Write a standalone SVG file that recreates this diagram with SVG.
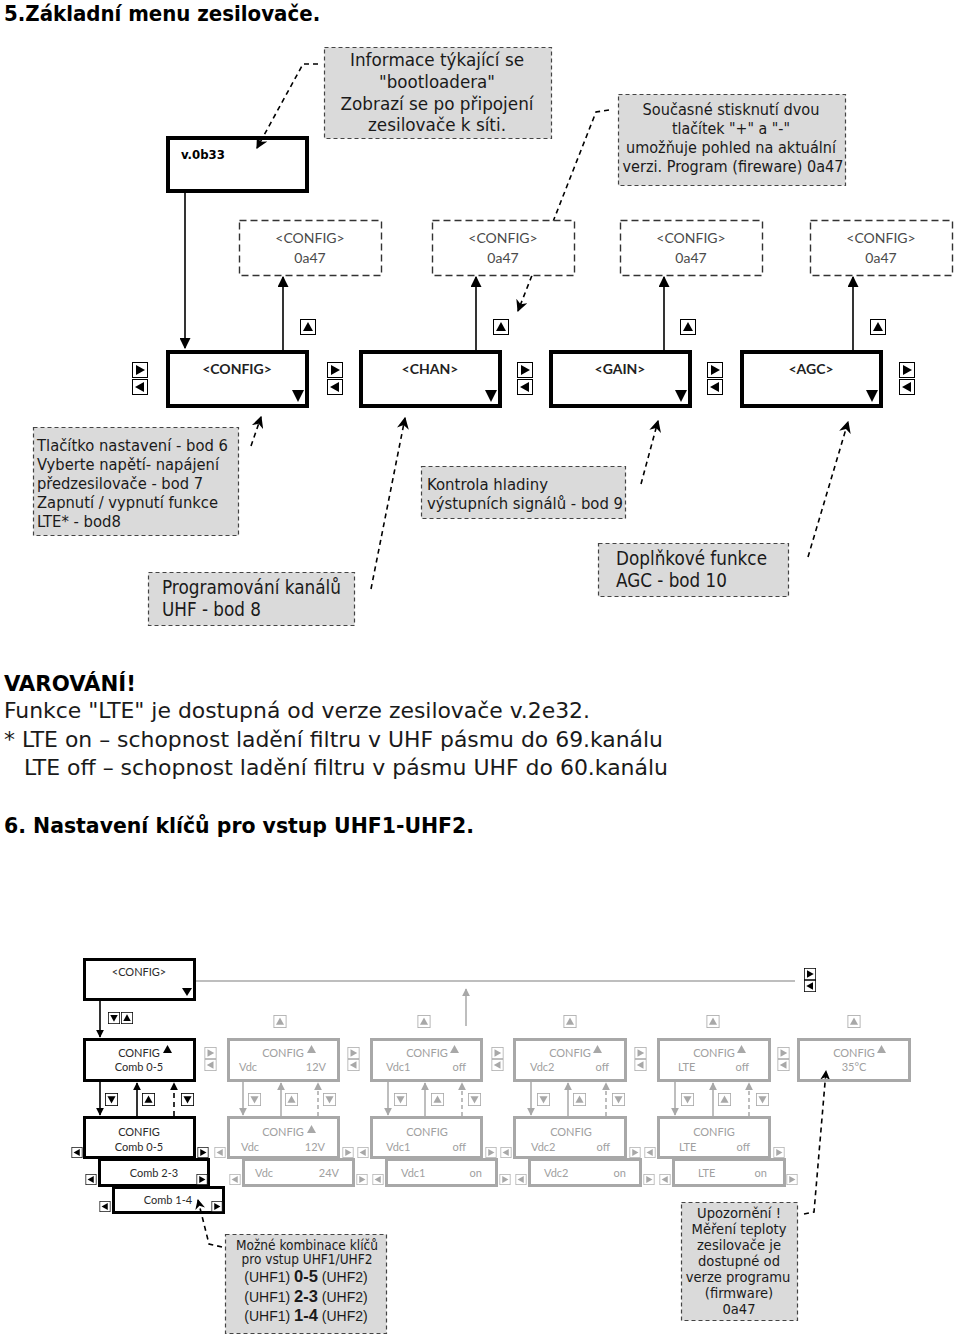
<svg xmlns="http://www.w3.org/2000/svg" xmlns:xlink="http://www.w3.org/1999/xlink" width="960" height="1340" viewBox="0 0 960 1340">
<style>
.cd{font-family:'DejaVu Sans Condensed','DejaVu Sans',sans-serif;font-stretch:condensed;fill:#1a1a1a}
.cdb{font-family:'DejaVu Sans Condensed','DejaVu Sans',sans-serif;font-stretch:condensed;font-weight:bold;fill:#000}
.lt{font-family:Lato,'Liberation Sans',sans-serif}
.ls{font-family:'Liberation Sans',Arial,sans-serif;fill:#1a1a1a}
.note{fill:#dadada;stroke:#444;stroke-width:1.2;stroke-dasharray:4 3}
.dbox{fill:#fff;stroke:#333;stroke-width:1.4;stroke-dasharray:7 4}
.mbox{fill:#fff;stroke:#000;stroke-width:4}
.bbox{fill:#fff;stroke:#000;stroke-width:3}
.gbox{fill:#fff;stroke:#a8a8a8;stroke-width:3}
.conn{stroke:#000;stroke-width:1.6;fill:none}
.dconn{stroke:#000;stroke-width:1.6;fill:none;stroke-dasharray:5 4}
.gconn{stroke:#a8a8a8;stroke-width:1.5;fill:none}
.gdconn{stroke:#a8a8a8;stroke-width:1.5;fill:none;stroke-dasharray:4 3}
.gt{fill:#a0a0a0}
.bt{fill:#2a2a2a}
.tri{fill:#000}
.gtri{fill:#a8a8a8}
.hollow{fill:none}
</style>
<defs>
<marker id="ah" viewBox="0 0 10 10" refX="9" refY="5" markerWidth="11" markerHeight="11" markerUnits="userSpaceOnUse" orient="auto"><path d="M0,0 L10,5 L0,10 Z" fill="#000"/></marker>
<marker id="ahd" viewBox="0 0 10 10" refX="9" refY="5" markerWidth="12" markerHeight="12" markerUnits="userSpaceOnUse" orient="auto"><path d="M0,0 L10,5 L0,10 L3,5 Z" fill="#000"/></marker>
<marker id="ahs" viewBox="0 0 10 10" refX="9" refY="5" markerWidth="8" markerHeight="8" markerUnits="userSpaceOnUse" orient="auto"><path d="M0,0 L10,5 L0,10 Z" fill="#000"/></marker>
<marker id="ahsd" viewBox="0 0 10 10" refX="9" refY="5" markerWidth="10" markerHeight="10" markerUnits="userSpaceOnUse" orient="auto"><path d="M0,0 L10,5 L0,10 L3,5 Z" fill="#000"/></marker>
<marker id="ahg" viewBox="0 0 10 10" refX="9" refY="5" markerWidth="8" markerHeight="8" markerUnits="userSpaceOnUse" orient="auto"><path d="M0,0 L10,5 L0,10 Z" fill="#a8a8a8"/></marker>
<symbol id="bR" viewBox="0 0 16 16"><rect x="0.5" y="0.5" width="15" height="15" fill="#fff" stroke="#000"/><path d="M4,3 L13,8 L4,13Z" fill="#000"/></symbol>
<symbol id="bL" viewBox="0 0 16 16"><rect x="0.5" y="0.5" width="15" height="15" fill="#fff" stroke="#000"/><path d="M12,3 L3,8 L12,13Z" fill="#000"/></symbol>
<symbol id="bU" viewBox="0 0 16 16"><rect x="0.5" y="0.5" width="15" height="15" fill="#fff" stroke="#000"/><path d="M3,12 L8,3 L13,12Z" fill="#000"/></symbol>
<symbol id="bD" viewBox="0 0 16 16"><rect x="0.5" y="0.5" width="15" height="15" fill="#fff" stroke="#000"/><path d="M3,4 L13,4 L8,13Z" fill="#000"/></symbol>
<symbol id="gR" viewBox="0 0 16 16"><rect x="0.5" y="0.5" width="15" height="15" fill="#fff" stroke="#a8a8a8"/><path d="M4,3 L13,8 L4,13Z" fill="#a8a8a8"/></symbol>
<symbol id="gL" viewBox="0 0 16 16"><rect x="0.5" y="0.5" width="15" height="15" fill="#fff" stroke="#a8a8a8"/><path d="M12,3 L3,8 L12,13Z" fill="#a8a8a8"/></symbol>
<symbol id="gU" viewBox="0 0 16 16"><rect x="0.5" y="0.5" width="15" height="15" fill="#fff" stroke="#a8a8a8"/><path d="M3,12 L8,3 L13,12Z" fill="#a8a8a8"/></symbol>
<symbol id="gD" viewBox="0 0 16 16"><rect x="0.5" y="0.5" width="15" height="15" fill="#fff" stroke="#a8a8a8"/><path d="M3,4 L13,4 L8,13Z" fill="#a8a8a8"/></symbol>
</defs>
<rect width="960" height="1340" fill="#fff"/>

<g id="connectors">
<!-- section 5 -->
<path class="conn" d="M185,192 V348" marker-end="url(#ah)"/>
<path class="conn" d="M283,350 V277" marker-end="url(#ah)"/>
<path class="conn" d="M476,350 V277" marker-end="url(#ah)"/>
<path class="conn" d="M664,350 V277" marker-end="url(#ah)"/>
<path class="conn" d="M853,350 V277" marker-end="url(#ah)"/>
<path class="dconn" d="M318,64 L303,64 L257,148" marker-end="url(#ahd)"/>
<path class="dconn" d="M609,110 L596,112 L518,311" marker-end="url(#ahd)"/>
<path class="dconn" d="M251,446 L261,417" marker-end="url(#ahd)"/>
<path class="dconn" d="M371,589 L405,418" marker-end="url(#ahd)"/>
<path class="dconn" d="M641,484 L658,421" marker-end="url(#ahd)"/>
<path class="dconn" d="M808,557 L848,422" marker-end="url(#ahd)"/>
<!-- section 6 -->
<path class="conn" d="M100,1000 V1037" marker-end="url(#ahs)"/>
<path class="gconn" d="M196,981 H795"/>
<path class="gconn" d="M466,1026 V989" marker-end="url(#ahg)"/>
<path class="conn" d="M100,1082 V1115" marker-end="url(#ahs)"/>
<path class="conn" d="M137,1116 V1083" marker-end="url(#ahs)"/>
<path class="dconn" d="M174,1116 V1083" stroke-dasharray="4 3" marker-end="url(#ahs)"/>
<path class="gconn" d="M243,1082 V1115" marker-end="url(#ahg)"/>
<path class="gconn" d="M281,1116 V1083" marker-end="url(#ahg)"/>
<path class="gdconn" d="M318,1116 V1083" marker-end="url(#ahg)"/>
<path class="gconn" d="M388,1082 V1115" marker-end="url(#ahg)"/>
<path class="gconn" d="M425,1116 V1083" marker-end="url(#ahg)"/>
<path class="gdconn" d="M462,1116 V1083" marker-end="url(#ahg)"/>
<path class="gconn" d="M531,1082 V1115" marker-end="url(#ahg)"/>
<path class="gconn" d="M568,1116 V1083" marker-end="url(#ahg)"/>
<path class="gdconn" d="M606,1116 V1083" marker-end="url(#ahg)"/>
<path class="gconn" d="M675,1082 V1115" marker-end="url(#ahg)"/>
<path class="gconn" d="M713,1116 V1083" marker-end="url(#ahg)"/>
<path class="gdconn" d="M749,1116 V1083" marker-end="url(#ahg)"/>
<path class="dconn" d="M804,1214 L814,1212 L826,1071" stroke-dasharray="4 3" marker-end="url(#ahsd)"/>
<path class="dconn" d="M222,1247 L209,1244 L198,1200" stroke-dasharray="4 3" marker-end="url(#ahsd)"/>
</g>

<g id="title5"><text class="cdb" x="4" y="21" font-size="22">5.Základní menu zesilovače.</text></g>

<g id="note-bootloader">
<rect class="note" x="324.5" y="47.5" width="227" height="91"/>
<g class="cd" font-size="18.5" text-anchor="middle">
<text x="437" y="66" textLength="174" lengthAdjust="spacingAndGlyphs">Informace týkající se</text>
<text x="437" y="88" textLength="116" lengthAdjust="spacingAndGlyphs">"bootloadera"</text>
<text x="437" y="110" textLength="193" lengthAdjust="spacingAndGlyphs">Zobrazí se po připojení</text>
<text x="437" y="131" textLength="138" lengthAdjust="spacingAndGlyphs">zesilovače k síti.</text>
</g>
</g>

<g id="node-v0b33">
<rect class="mbox hollow" x="168" y="138" width="139" height="53" style="fill:none"/>
<text class="cdb" x="181" y="159" font-size="13">v.0b33</text>
</g>

<g id="note-version">
<rect class="note" x="618.5" y="94.5" width="227" height="91"/>
<g class="cd" font-size="16.2" text-anchor="middle">
<text x="731" y="115" textLength="177" lengthAdjust="spacingAndGlyphs">Současné stisknutí dvou</text>
<text x="731" y="134" textLength="118" lengthAdjust="spacingAndGlyphs">tlačítek "+" a "-"</text>
<text x="731" y="153" textLength="210" lengthAdjust="spacingAndGlyphs">umožňuje pohled na aktuální</text>
<text x="733" y="172" textLength="221" lengthAdjust="spacingAndGlyphs">verzi. Program (fireware) 0a47</text>
</g>
</g>

<g id="ver1"><rect class="dbox" x="239.5" y="220.5" width="142" height="55"/><text class="lt" x="310" y="243" font-size="14" fill="#4a4a4a" text-anchor="middle">&lt;CONFIG&gt;</text><text class="lt" x="310" y="263" font-size="14" fill="#4a4a4a" text-anchor="middle">0a47</text></g>
<g id="ver2"><rect class="dbox" x="432.5" y="220.5" width="142" height="55"/><text class="lt" x="503" y="243" font-size="14" fill="#4a4a4a" text-anchor="middle">&lt;CONFIG&gt;</text><text class="lt" x="503" y="263" font-size="14" fill="#4a4a4a" text-anchor="middle">0a47</text></g>
<g id="ver3"><rect class="dbox" x="620.5" y="220.5" width="142" height="55"/><text class="lt" x="691" y="243" font-size="14" fill="#4a4a4a" text-anchor="middle">&lt;CONFIG&gt;</text><text class="lt" x="691" y="263" font-size="14" fill="#4a4a4a" text-anchor="middle">0a47</text></g>
<g id="ver4"><rect class="dbox" x="810.5" y="220.5" width="142" height="55"/><text class="lt" x="881" y="243" font-size="14" fill="#4a4a4a" text-anchor="middle">&lt;CONFIG&gt;</text><text class="lt" x="881" y="263" font-size="14" fill="#4a4a4a" text-anchor="middle">0a47</text></g>

<g id="menu-config"><rect class="mbox" x="168" y="352" width="139" height="54"/><text class="lt" x="237" y="374" font-size="14" font-weight="bold" fill="#222" text-anchor="middle">&lt;CONFIG&gt;</text><path class="tri" d="M292,390 L304,390 L298,402Z"/></g>
<g id="menu-chan"><rect class="mbox" x="361" y="352" width="139" height="54"/><text class="lt" x="430" y="374" font-size="14" font-weight="bold" fill="#222" text-anchor="middle">&lt;CHAN&gt;</text><path class="tri" d="M485,390 L497,390 L491,402Z"/></g>
<g id="menu-gain"><rect class="mbox" x="551" y="352" width="139" height="54"/><text class="lt" x="620" y="374" font-size="14" font-weight="bold" fill="#222" text-anchor="middle">&lt;GAIN&gt;</text><path class="tri" d="M675,390 L687,390 L681,402Z"/></g>
<g id="menu-agc"><rect class="mbox" x="742" y="352" width="139" height="54"/><text class="lt" x="811" y="374" font-size="14" font-weight="bold" fill="#222" text-anchor="middle">&lt;AGC&gt;</text><path class="tri" d="M866,390 L878,390 L872,402Z"/></g>

<g id="buttons-top">
<use xlink:href="#bR" x="132" y="362" width="16" height="16"/><use xlink:href="#bL" x="132" y="379" width="16" height="16"/>
<use xlink:href="#bR" x="327" y="362" width="16" height="16"/><use xlink:href="#bL" x="327" y="379" width="16" height="16"/>
<use xlink:href="#bR" x="517" y="362" width="16" height="16"/><use xlink:href="#bL" x="517" y="379" width="16" height="16"/>
<use xlink:href="#bR" x="707" y="362" width="16" height="16"/><use xlink:href="#bL" x="707" y="379" width="16" height="16"/>
<use xlink:href="#bR" x="899" y="362" width="16" height="16"/><use xlink:href="#bL" x="899" y="379" width="16" height="16"/>
<use xlink:href="#bU" x="300" y="319" width="16" height="16"/>
<use xlink:href="#bU" x="493" y="319" width="16" height="16"/>
<use xlink:href="#bU" x="680" y="319" width="16" height="16"/>
<use xlink:href="#bU" x="870" y="319" width="16" height="16"/>
</g>

<g id="note-setup">
<rect class="note" x="33.5" y="427.5" width="205" height="108"/>
<g class="cd" font-size="16.4">
<text x="37" y="451" textLength="191" lengthAdjust="spacingAndGlyphs">Tlačítko nastavení - bod 6</text>
<text x="37" y="470" textLength="182" lengthAdjust="spacingAndGlyphs">Vyberte napětí- napájení</text>
<text x="37" y="489" textLength="166" lengthAdjust="spacingAndGlyphs">předzesilovače - bod 7</text>
<text x="37" y="508" textLength="181" lengthAdjust="spacingAndGlyphs">Zapnutí / vypnutí funkce</text>
<text x="37" y="527" textLength="84" lengthAdjust="spacingAndGlyphs">LTE* - bod8</text>
</g>
</g>

<g id="note-channels">
<rect class="note" x="148.5" y="572.5" width="206" height="53"/>
<g class="cd" font-size="18.7">
<text x="162" y="594" textLength="179" lengthAdjust="spacingAndGlyphs">Programování kanálů</text>
<text x="162" y="616" textLength="99" lengthAdjust="spacingAndGlyphs">UHF - bod 8</text>
</g>
</g>

<g id="note-level">
<rect class="note" x="421.5" y="466.5" width="204" height="52"/>
<g class="cd" font-size="16.4">
<text x="427" y="490" textLength="121" lengthAdjust="spacingAndGlyphs">Kontrola hladiny</text>
<text x="427" y="509" textLength="196" lengthAdjust="spacingAndGlyphs">výstupních signálů - bod 9</text>
</g>
</g>

<g id="note-agc">
<rect class="note" x="598.5" y="543.5" width="190" height="53"/>
<g class="cd" font-size="18.6">
<text x="616" y="565" textLength="151" lengthAdjust="spacingAndGlyphs">Doplňkové funkce</text>
<text x="616" y="587" textLength="111" lengthAdjust="spacingAndGlyphs">AGC - bod 10</text>
</g>
</g>

<g id="warning">
<text class="cdb" x="4" y="691" font-size="22" textLength="132" lengthAdjust="spacingAndGlyphs">VAROVÁNÍ!</text>
<text class="cd" x="4" y="718" font-size="22" textLength="586" lengthAdjust="spacingAndGlyphs" fill="#000">Funkce "LTE" je dostupná od verze zesilovače v.2e32.</text>
<text class="cd" x="4" y="747" font-size="22" textLength="659" lengthAdjust="spacingAndGlyphs" fill="#000">* LTE on – schopnost ladění filtru v UHF pásmu do 69.kanálu</text>
<text class="cd" x="24" y="775" font-size="22" textLength="644" lengthAdjust="spacingAndGlyphs" fill="#000">LTE off – schopnost ladění filtru v pásmu UHF do 60.kanálu</text>
</g>

<g id="title6"><text class="cdb" x="4" y="833" font-size="22" textLength="470" lengthAdjust="spacingAndGlyphs">6. Nastavení klíčů pro vstup UHF1-UHF2.</text></g>

<!-- Section 6 nodes -->
<g id="s6-config"><rect class="bbox" x="84.5" y="959.5" width="110" height="40"/><text class="lt bt" x="139" y="976" font-size="11" text-anchor="middle">&lt;CONFIG&gt;</text><path class="tri" d="M182,988 L192,988 L187,996Z"/></g>
<g id="s6-nav-top"><use xlink:href="#bR" x="803" y="968" width="14" height="12"/><use xlink:href="#bL" x="803" y="980" width="14" height="12"/></g>

<g id="s6-a1"><rect class="bbox" x="84.5" y="1039.5" width="110" height="41"/><text class="lt bt" x="139" y="1057" font-size="11" text-anchor="middle">CONFIG</text><path class="tri" d="M163,1053 L167.5,1045 L172,1053Z"/><text class="lt bt" x="139" y="1071" font-size="11" text-anchor="middle">Comb 0-5</text></g>
<g id="s6-b1"><rect class="gbox" x="228.5" y="1039.5" width="110" height="41"/><text class="lt gt" x="283" y="1057" font-size="11" text-anchor="middle">CONFIG</text><path class="gtri" d="M307,1053 L311.5,1045 L316,1053Z"/><text class="lt gt" x="239" y="1071" font-size="11">Vdc</text><text class="lt gt" x="326" y="1071" font-size="11" text-anchor="end">12V</text></g>
<g id="s6-c1"><rect class="gbox" x="371.5" y="1039.5" width="110" height="41"/><text class="lt gt" x="427" y="1057" font-size="11" text-anchor="middle">CONFIG</text><path class="gtri" d="M450,1053 L454.5,1045 L459,1053Z"/><text class="lt gt" x="386" y="1071" font-size="11">Vdc1</text><text class="lt gt" x="466" y="1071" font-size="11" text-anchor="end">off</text></g>
<g id="s6-d1"><rect class="gbox" x="514.5" y="1039.5" width="111" height="41"/><text class="lt gt" x="570" y="1057" font-size="11" text-anchor="middle">CONFIG</text><path class="gtri" d="M593,1053 L597.5,1045 L602,1053Z"/><text class="lt gt" x="530" y="1071" font-size="11">Vdc2</text><text class="lt gt" x="609" y="1071" font-size="11" text-anchor="end">off</text></g>
<g id="s6-e1"><rect class="gbox" x="658.5" y="1039.5" width="111" height="41"/><text class="lt gt" x="714" y="1057" font-size="11" text-anchor="middle">CONFIG</text><path class="gtri" d="M737,1053 L741.5,1045 L746,1053Z"/><text class="lt gt" x="678" y="1071" font-size="11">LTE</text><text class="lt gt" x="749" y="1071" font-size="11" text-anchor="end">off</text></g>
<g id="s6-f1"><rect class="gbox" x="798.5" y="1039.5" width="111" height="41" style="fill:none"/><text class="lt gt" x="854" y="1057" font-size="11" text-anchor="middle">CONFIG</text><path class="gtri" d="M877,1053 L881.5,1045 L886,1053Z"/><text class="lt gt" x="854" y="1071" font-size="11" text-anchor="middle">35°C</text></g>

<g id="s6-row1-buttons">
<use xlink:href="#gR" x="204" y="1047" width="13" height="12"/><use xlink:href="#gL" x="204" y="1059" width="13" height="12"/>
<use xlink:href="#gR" x="347" y="1047" width="13" height="12"/><use xlink:href="#gL" x="347" y="1059" width="13" height="12"/>
<use xlink:href="#gR" x="491" y="1047" width="13" height="12"/><use xlink:href="#gL" x="491" y="1059" width="13" height="12"/>
<use xlink:href="#gR" x="634" y="1047" width="13" height="12"/><use xlink:href="#gL" x="634" y="1059" width="13" height="12"/>
<use xlink:href="#gR" x="777" y="1047" width="13" height="12"/><use xlink:href="#gL" x="777" y="1059" width="13" height="12"/>
<use xlink:href="#gU" x="273" y="1015" width="14" height="13"/>
<use xlink:href="#gU" x="417" y="1015" width="14" height="13"/>
<use xlink:href="#gU" x="563" y="1015" width="14" height="13"/>
<use xlink:href="#gU" x="706" y="1015" width="14" height="13"/>
<use xlink:href="#gU" x="847" y="1015" width="14" height="13"/>
<use xlink:href="#bD" x="108" y="1012" width="12" height="12"/><use xlink:href="#bU" x="121" y="1012" width="12" height="12"/>
</g>

<g id="s6-between-buttons">
<use xlink:href="#bD" x="105" y="1093" width="13" height="13"/><use xlink:href="#bU" x="142" y="1093" width="13" height="13"/><use xlink:href="#bD" x="181" y="1093" width="13" height="13"/>
<use xlink:href="#gD" x="248" y="1093" width="13" height="13"/><use xlink:href="#gU" x="285" y="1093" width="13" height="13"/><use xlink:href="#gD" x="323" y="1093" width="13" height="13"/>
<use xlink:href="#gD" x="394" y="1093" width="13" height="13"/><use xlink:href="#gU" x="431" y="1093" width="13" height="13"/><use xlink:href="#gD" x="468" y="1093" width="13" height="13"/>
<use xlink:href="#gD" x="537" y="1093" width="13" height="13"/><use xlink:href="#gU" x="573" y="1093" width="13" height="13"/><use xlink:href="#gD" x="612" y="1093" width="13" height="13"/>
<use xlink:href="#gD" x="681" y="1093" width="13" height="13"/><use xlink:href="#gU" x="718" y="1093" width="13" height="13"/><use xlink:href="#gD" x="756" y="1093" width="13" height="13"/>
</g>

<g id="s6-b3"><rect class="gbox" x="243.5" y="1159.5" width="110" height="26"/><text class="lt gt" x="255" y="1177" font-size="11">Vdc</text><text class="lt gt" x="339" y="1177" font-size="11" text-anchor="end">24V</text></g>
<g id="s6-c3"><rect class="gbox" x="386.5" y="1159.5" width="110" height="26"/><text class="lt gt" x="401" y="1177" font-size="11">Vdc1</text><text class="lt gt" x="482" y="1177" font-size="11" text-anchor="end">on</text></g>
<g id="s6-d3"><rect class="gbox" x="529.5" y="1159.5" width="111" height="26"/><text class="lt gt" x="544" y="1177" font-size="11">Vdc2</text><text class="lt gt" x="626" y="1177" font-size="11" text-anchor="end">on</text></g>
<g id="s6-e3"><rect class="gbox" x="673.5" y="1159.5" width="111" height="26"/><text class="lt gt" x="698" y="1177" font-size="11">LTE</text><text class="lt gt" x="767" y="1177" font-size="11" text-anchor="end">on</text></g>

<g id="s6-a2"><rect class="bbox" x="84.5" y="1117.5" width="110" height="40"/><text class="lt bt" x="139" y="1136" font-size="11" text-anchor="middle">CONFIG</text><text class="lt bt" x="139" y="1151" font-size="11" text-anchor="middle">Comb 0-5</text></g>
<g id="s6-b2"><rect class="gbox" x="228.5" y="1117.5" width="110" height="40"/><text class="lt gt" x="283" y="1136" font-size="11" text-anchor="middle">CONFIG</text><path class="gtri" d="M307,1133 L311.5,1125 L316,1133Z"/><text class="lt gt" x="241" y="1151" font-size="11">Vdc</text><text class="lt gt" x="325" y="1151" font-size="11" text-anchor="end">12V</text></g>
<g id="s6-c2"><rect class="gbox" x="371.5" y="1117.5" width="110" height="40"/><text class="lt gt" x="427" y="1136" font-size="11" text-anchor="middle">CONFIG</text><text class="lt gt" x="386" y="1151" font-size="11">Vdc1</text><text class="lt gt" x="466" y="1151" font-size="11" text-anchor="end">off</text></g>
<g id="s6-d2"><rect class="gbox" x="514.5" y="1117.5" width="111" height="40"/><text class="lt gt" x="571" y="1136" font-size="11" text-anchor="middle">CONFIG</text><text class="lt gt" x="531" y="1151" font-size="11">Vdc2</text><text class="lt gt" x="610" y="1151" font-size="11" text-anchor="end">off</text></g>
<g id="s6-e2"><rect class="gbox" x="658.5" y="1117.5" width="111" height="40"/><text class="lt gt" x="714" y="1136" font-size="11" text-anchor="middle">CONFIG</text><text class="lt gt" x="679" y="1151" font-size="11">LTE</text><text class="lt gt" x="750" y="1151" font-size="11" text-anchor="end">off</text></g>

<g id="s6-comb23"><rect class="bbox" x="99.5" y="1159.5" width="109" height="26"/><text class="lt bt" x="154" y="1177" font-size="11" text-anchor="middle">Comb 2-3</text></g>
<g id="s6-comb14"><rect class="bbox" x="113.5" y="1187.5" width="110" height="25" style="fill:none"/><text class="lt bt" x="168" y="1204" font-size="11" text-anchor="middle">Comb 1-4</text></g>

<g id="s6-side-buttons">
<use xlink:href="#bL" x="71" y="1147" width="12" height="11"/><use xlink:href="#bR" x="197" y="1147" width="12" height="11"/>
<use xlink:href="#bL" x="85" y="1174" width="12" height="11"/><use xlink:href="#bR" x="196" y="1174" width="12" height="11"/>
<use xlink:href="#bL" x="99" y="1201" width="12" height="11"/><use xlink:href="#bR" x="211" y="1201" width="12" height="11"/>
<use xlink:href="#gL" x="214" y="1147" width="12" height="11"/><use xlink:href="#gR" x="342" y="1147" width="12" height="11"/>
<use xlink:href="#gL" x="357" y="1147" width="12" height="11"/><use xlink:href="#gR" x="485" y="1147" width="12" height="11"/>
<use xlink:href="#gL" x="500" y="1147" width="12" height="11"/><use xlink:href="#gR" x="629" y="1147" width="12" height="11"/>
<use xlink:href="#gL" x="644" y="1147" width="12" height="11"/><use xlink:href="#gR" x="773" y="1147" width="12" height="11"/>
<use xlink:href="#gL" x="229" y="1174" width="12" height="11"/><use xlink:href="#gR" x="356" y="1174" width="12" height="11"/>
<use xlink:href="#gL" x="372" y="1174" width="12" height="11"/><use xlink:href="#gR" x="499" y="1174" width="12" height="11"/>
<use xlink:href="#gL" x="515" y="1174" width="12" height="11"/><use xlink:href="#gR" x="643" y="1174" width="12" height="11"/>
<use xlink:href="#gL" x="659" y="1174" width="12" height="11"/><use xlink:href="#gR" x="786" y="1174" width="12" height="11"/>
</g>

<g id="note-combos">
<rect class="note" x="225.5" y="1234.5" width="161" height="99"/>
<text class="cd" x="307" y="1250" font-size="14.5" text-anchor="middle" textLength="142" lengthAdjust="spacingAndGlyphs">Možné kombinace klíčů</text>
<text class="cd" x="307" y="1264" font-size="14.5" text-anchor="middle" textLength="131" lengthAdjust="spacingAndGlyphs">pro vstup UHF1/UHF2</text>
<text class="ls" x="306" y="1282" font-size="14" text-anchor="middle">(UHF1) <tspan font-weight="bold" font-size="16.5">0-5</tspan> (UHF2)</text>
<text class="ls" x="306" y="1302" font-size="14" text-anchor="middle">(UHF1) <tspan font-weight="bold" font-size="16.5">2-3</tspan> (UHF2)</text>
<text class="ls" x="306" y="1321" font-size="14" text-anchor="middle">(UHF1) <tspan font-weight="bold" font-size="16.5">1-4</tspan> (UHF2)</text>
</g>

<g id="note-temp">
<rect class="note" x="681.5" y="1202.5" width="116" height="118"/>
<g class="cd" font-size="14.6" text-anchor="middle">
<text x="739" y="1218">Upozornění !</text>
<text x="739" y="1234">Měření teploty</text>
<text x="739" y="1250">zesilovače je</text>
<text x="739" y="1266">dostupné od</text>
<text x="738" y="1282">verze programu</text>
<text x="739" y="1298">(firmware)</text>
<text x="739" y="1314">0a47</text>
</g>
</g>
</svg>
